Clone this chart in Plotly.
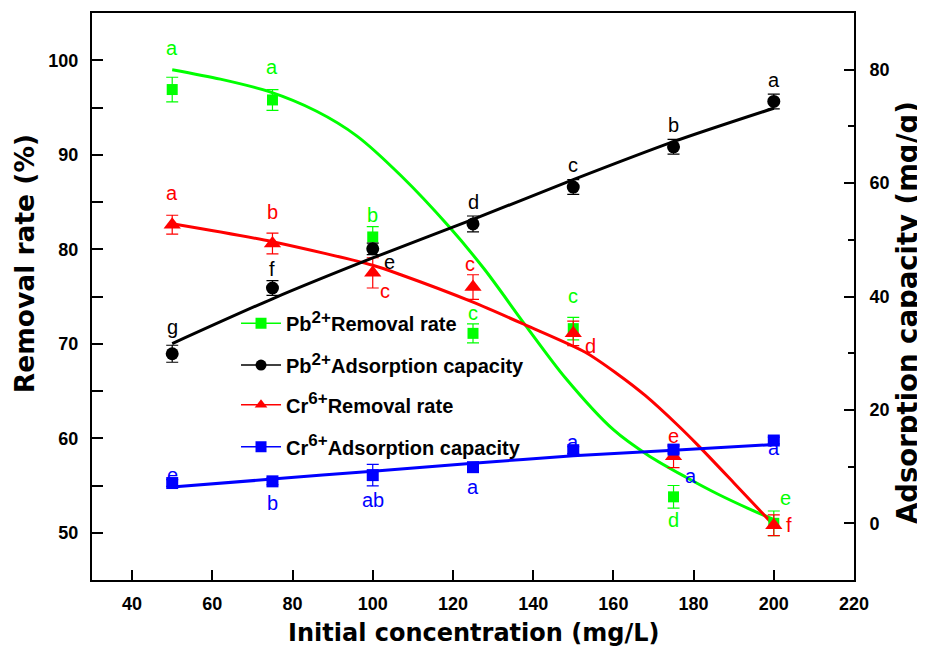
import plotly.graph_objects as go

# ---------------- data ----------------
conc = [50, 75, 100, 125, 150, 175, 200]

pb_removal = [96.9, 95.8, 81.3, 71.1, 71.6, 53.8, 51.0]
pb_removal_err = [1.3, 1.1, 1.1, 1.0, 1.2, 1.2, 1.3]
pb_removal_letters = ["a", "a", "b", "c", "c", "d", "e"]

pb_capacity = [29.9, 41.5, 48.4, 52.8, 59.3, 66.4, 74.4]
pb_capacity_err = [1.5, 1.3, 1.0, 1.4, 1.3, 1.3, 1.3]
pb_capacity_letters = ["g", "f", "e", "d", "c", "b", "a"]

cr_removal = [82.6, 80.6, 77.5, 76.0, 71.1, 58.1, 50.8]
cr_removal_err = [1.0, 1.1, 1.6, 1.3, 1.3, 1.2, 1.1]
cr_removal_letters = ["a", "b", "c", "c", "d", "e", "f"]

cr_capacity = [7.1, 7.4, 8.5, 9.9, 12.9, 13.0, 14.6]
cr_capacity_err = [0.6, 0.6, 1.9, 0.6, 0.6, 0.6, 0.6]
cr_capacity_letters = ["e", "b", "ab", "a", "a", "a", "a"]

# fitted curves
pb_removal_fit_x = [50, 62, 74, 86, 96, 107, 119, 128, 138, 148, 160, 169, 178, 186, 194, 200]
pb_removal_fit_y = [99.0, 98.0, 96.7, 94.6, 92.0, 87.8, 82.4, 77.8, 72.0, 66.4, 60.9, 58.1, 55.9, 54.1, 52.5, 51.4]

cr_removal_fit_x = [50, 75, 100, 107, 125, 138, 153, 161, 168, 176, 181, 190, 200]
cr_removal_fit_y = [82.7, 80.8, 78.3, 77.3, 74.4, 72.0, 69.1, 66.8, 64.5, 61.4, 59.3, 55.3, 50.8]

pb_capacity_fit_x = [50, 75, 100, 125, 150, 175, 200]
pb_capacity_fit_y = [31.7, 39.6, 46.8, 53.6, 60.6, 67.3, 73.2]

cr_capacity_fit_x = [50, 75, 100, 125, 150, 175, 200]
cr_capacity_fit_y = [6.4, 7.8, 9.2, 10.6, 11.9, 12.9, 13.9]

SUP = "<sup><span style='font-size:17px'>{}</span></sup>"
legend_names = [
    "Pb" + SUP.format("2+") + "Removal rate",
    "Pb" + SUP.format("2+") + "Adsorption capacity",
    "Cr" + SUP.format("6+") + "Removal rate",
    "Cr" + SUP.format("6+") + "Adsorption capacity",
]

# ---------------- style ----------------
GREEN = "#00FF00"
BLACK = "#000000"
RED = "#FF0000"
BLUE = "#0000FF"
FONT = "Liberation Sans, Arial, sans-serif"
TITLE_FONT = "DejaVu Sans, Liberation Sans, Arial, sans-serif"

fig = go.Figure()

series = [
    # values, err, letters, fit_x, fit_y, color, symbol, size, axis
    (pb_removal, pb_removal_err, pb_removal_letters, pb_removal_fit_x, pb_removal_fit_y, GREEN, "square", 11, "y"),
    (pb_capacity, pb_capacity_err, pb_capacity_letters, pb_capacity_fit_x, pb_capacity_fit_y, BLACK, "circle", 13, "y2"),
    (cr_removal, cr_removal_err, cr_removal_letters, cr_removal_fit_x, cr_removal_fit_y, RED, "triangle-up", 15, "y"),
    (cr_capacity, cr_capacity_err, cr_capacity_letters, cr_capacity_fit_x, cr_capacity_fit_y, BLUE, "square", 12, "y2"),
]

# fit lines first
for vals, err, letters, fx, fy, col, sym, size, ax in series:
    fig.add_trace(go.Scatter(x=fx, y=fy, mode="lines", line=dict(color=col, width=3, shape="spline", smoothing=0.8),
                             yaxis=ax, showlegend=False, hoverinfo="skip"))

# markers with error bars
for vals, err, letters, fx, fy, col, sym, size, ax in series:
    fig.add_trace(go.Scatter(x=conc, y=vals, mode="markers",
                             marker=dict(symbol=sym, size=size, color=col, line=dict(width=0)),
                             error_y=dict(type="data", array=err, visible=True, color=col, thickness=1.2, width=6),
                             yaxis=ax, showlegend=False))

# legends (one per item, placed precisely)
legend_rows = [0.453, 0.379, 0.309, 0.235]
legend_ids = ["legend", "legend2", "legend3", "legend4"]
for (vals, err, letters, fx, fy, col, sym, size, ax), name, lid in zip(series, legend_names, legend_ids):
    fig.add_trace(go.Scatter(x=[None], y=[None], mode="lines+markers", name=name,
                             line=dict(color=col, width=1.5),
                             marker=dict(symbol=sym, size=11, color=col),
                             yaxis=ax, legend=lid))

# significance letters
offsets = [
    [(0, 42), (0, 33), (0, 22), (0, 20), (0, 33), (0, -23), (12, 25)],     # Pb removal
    [(0, 27), (0, 19), (17, -13), (0, 22), (0, 22), (0, 22), (0, 21)],     # Pb capacity
    [(0, 32), (0, 32), (12, -18), (-3, 23), (17, -13), (0, 20), (15, 0)],  # Cr removal
    [(0, 8), (0, -22), (0, -25), (0, -20), (0, 8), (17, -26), (0, -7)],    # Cr capacity
]
annotations = []
for (vals, err, letters, fx, fy, col, sym, size, ax), offs in zip(series, offsets):
    for xv, yv, t, (dx, dy) in zip(conc, vals, letters, offs):
        annotations.append(dict(x=xv, y=yv, xref="x", yref=ax, text=t, showarrow=False,
                                xshift=dx, yshift=dy, font=dict(family=FONT, size=20, color=col)))

# axis titles
annotations.append(dict(x=0.5, y=-0.0935, xref="paper", yref="paper", text="<b>Initial concentration (mg/L)</b>",
                        showarrow=False, xanchor="center", yanchor="middle",
                        font=dict(family=TITLE_FONT, size=24, color=BLACK)))
annotations.append(dict(x=-0.0892, y=0.557, xref="paper", yref="paper", text="<b>Removal rate (%)</b>",
                        showarrow=False, textangle=-90, xanchor="center", yanchor="middle",
                        font=dict(family=TITLE_FONT, size=26.5, color=BLACK)))
annotations.append(dict(x=1.0696, y=0.471, xref="paper", yref="paper", text="<b>Adsorption capacity (mg/g)</b>",
                        showarrow=False, textangle=-90, xanchor="center", yanchor="middle",
                        font=dict(family=TITLE_FONT, size=27.5, color=BLACK)))

tickfont = dict(family=FONT, size=18, color=BLACK, weight="bold")

layout_legends = {}
for lid, yy in zip(legend_ids, legend_rows):
    layout_legends[lid] = dict(x=0.189, y=yy, xanchor="left", yanchor="middle", bgcolor="rgba(0,0,0,0)",
                               borderwidth=0, font=dict(family=FONT, size=20, color=BLACK, weight="bold"),
                               itemwidth=40)

# the page body has an 8px margin: size the figure so the plot area lands where the reference has it
fig.update_layout(
    width=917, height=640,
    margin=dict(l=84, r=71, t=5, b=68, autoexpand=False),
    paper_bgcolor="white", plot_bgcolor="white",
    showlegend=True,
    annotations=annotations,
    xaxis=dict(range=[30, 220], tickvals=[40, 60, 80, 100, 120, 140, 160, 180, 200, 220],
               ticks="inside", ticklen=10, tickwidth=2, tickcolor=BLACK,
               showline=True, linewidth=2, linecolor=BLACK, mirror=True,
               showgrid=False, zeroline=False, tickfont=tickfont, ticklabelstandoff=6),
    yaxis=dict(range=[45, 105], tickvals=[50, 60, 70, 80, 90, 100],
               ticks="inside", ticklen=11, tickwidth=2, tickcolor=BLACK,
               minor=dict(dtick=5, tick0=45, ticks="inside", ticklen=11, tickwidth=2, tickcolor=BLACK),
               showline=True, linewidth=2, linecolor=BLACK,
               showgrid=False, zeroline=False, tickfont=tickfont, ticklabelstandoff=8),
    yaxis2=dict(range=[-10, 90], tickvals=[0, 20, 40, 60, 80], overlaying="y", side="right",
                ticks="inside", ticklen=10, tickwidth=2, tickcolor=BLACK,
                minor=dict(dtick=10, tick0=-10, ticks="inside", ticklen=6, tickwidth=2, tickcolor=BLACK),
                showline=True, linewidth=2, linecolor=BLACK,
                showgrid=False, zeroline=False, tickfont=tickfont, ticklabelstandoff=10),
    **layout_legends,
)

fig.write_html("out.html")
